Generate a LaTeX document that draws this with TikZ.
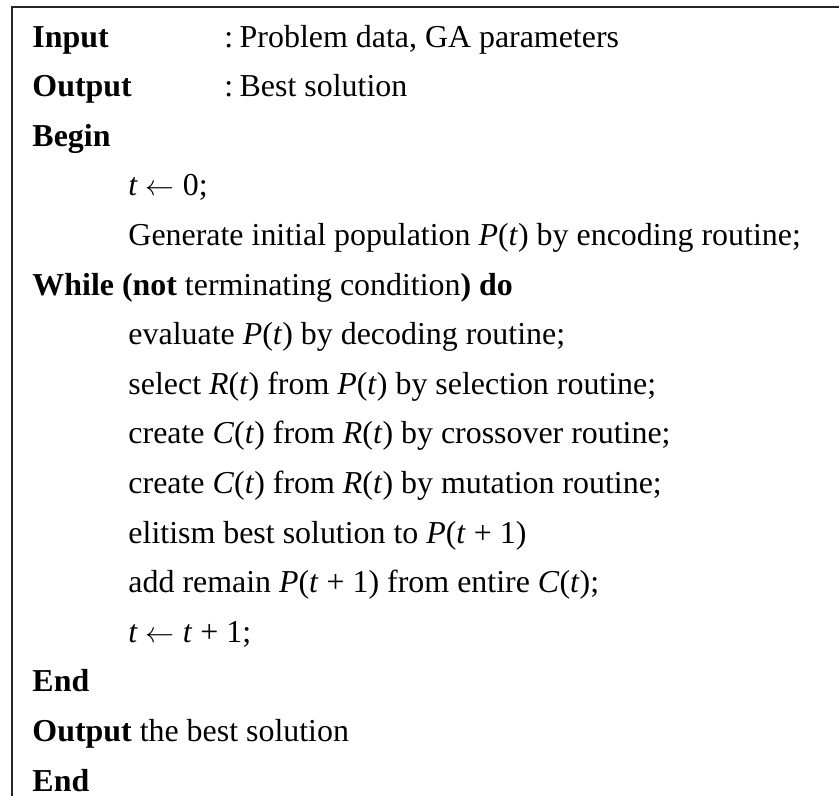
\documentclass[tikz,border=0pt]{standalone}
\usepackage{fontspec}
\setmainfont{Liberation Serif}
\usepackage{tikz}
\tikzstyle{every node}=[anchor=base west,inner sep=0pt,font=\fontsize{13.2}{15}\selectfont]
\tikzstyle{frame}=[draw=black!85,line width=0.6pt]

\begin{document}
\begin{tikzpicture}[x=0.4136pt,y=0.4136pt]
    \useasboundingbox (0,0) rectangle (839,-796);
    \draw[frame] (839,-7) -- (12,-7) -- (12,-796);
    % header
    \node (input) at (32,-47) {\textbf{Input}};
    \node (inval) at (224,-47) {:\hspace{0.2em}Problem data, GA parameters};
    \node (output) at (32,-96.6) {\textbf{Output}};
    \node (outval) at (224,-96.6) {:\hspace{0.2em}Best solution};
    \node (begin) at (32,-146.2) {\textbf{Begin}};
    \node (init) at (128,-195.8) {\textit{t} $\leftarrow$ 0;};
    \node (gen) at (128,-245.4) {Generate initial population \textit{P}(\textit{t}) by encoding routine;};
    % loop
    \node (while) at (32,-295) {\textbf{While (not} terminating condition\textbf{) do}};
    \node (eval) at (128,-344.6) {evaluate \textit{P}(\textit{t}) by decoding routine;};
    \node (select) at (128,-394.2) {select \textit{R}(\textit{t}) from \textit{P}(\textit{t}) by selection routine;};
    \node (cross) at (128,-443.8) {create \textit{C}(\textit{t}) from \textit{R}(\textit{t}) by crossover routine;};
    \node (mut) at (128,-493.4) {create \textit{C}(\textit{t}) from \textit{R}(\textit{t}) by mutation routine;};
    \node (elit) at (128,-543) {elitism best solution to \textit{P}(\textit{t} + 1)};
    \node (remain) at (128,-592.6) {add remain \textit{P}(\textit{t} + 1) from entire \textit{C}(\textit{t});};
    \node (incr) at (128,-642.2) {\textit{t} $\leftarrow$ \textit{t} + 1;};
    \node (endwhile) at (32,-691.8) {\textbf{End}};
    % result
    \node (best) at (32,-741.4) {\textbf{Output} the best solution};
    \node (end) at (32,-791) {\textbf{End}};
\end{tikzpicture}
\end{document}
